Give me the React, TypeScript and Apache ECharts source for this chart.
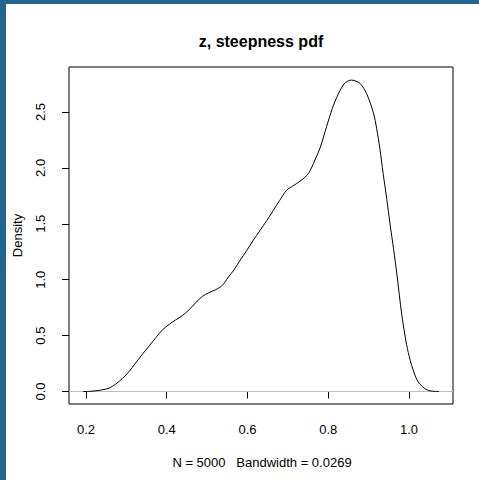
import React, { useEffect, useRef } from "react";
import * as echarts from "echarts";

const titleText = "z, steepness pdf";
const subText = "N = 5000   Bandwidth = 0.0269";
const yName = "Density";

const xTicks = [0.2, 0.4, 0.6, 0.8, 1.0];
const yTicks = [0, 0.5, 1.0, 1.5, 2.0, 2.5];

const xs = [
  0.193, 0.212, 0.232, 0.257, 0.274, 0.29, 0.307, 0.323, 0.339, 0.356, 0.373,
  0.389, 0.406, 0.422, 0.439, 0.455, 0.472, 0.488, 0.505, 0.521, 0.538, 0.552,
  0.567, 0.581, 0.598, 0.614, 0.631, 0.648, 0.664, 0.68, 0.697, 0.713, 0.73,
  0.751, 0.767, 0.78, 0.796, 0.81, 0.821, 0.837, 0.848, 0.858, 0.869, 0.879,
  0.895, 0.912, 0.92, 0.928, 0.936, 0.945, 0.953, 0.962, 0.97, 0.982, 0.994,
  1.003, 1.011, 1.019, 1.027, 1.04, 1.052, 1.074,
];
const density = [
  0.0, 0.002, 0.01, 0.03, 0.068, 0.115, 0.18, 0.255, 0.33, 0.405, 0.482, 0.55,
  0.6, 0.64, 0.68, 0.73, 0.795, 0.85, 0.885, 0.91, 0.95, 1.02, 1.09, 1.17,
  1.26, 1.35, 1.44, 1.53, 1.62, 1.71, 1.8, 1.84, 1.88, 1.95, 2.07, 2.18, 2.37,
  2.53, 2.63, 2.74, 2.775, 2.785, 2.775, 2.755, 2.665, 2.49, 2.35, 2.17, 1.95,
  1.72, 1.5, 1.27, 1.05, 0.69, 0.42, 0.28, 0.185, 0.11, 0.065, 0.025, 0.006,
  0.0,
];

export default function App() {
  const ref = useRef<HTMLDivElement>(null);
  useEffect(() => {
    if (!ref.current) return;
    const chart = echarts.init(ref.current, undefined, { renderer: "svg" });
    const font = "Liberation Sans, Arial, Helvetica, sans-serif";
    const data = xs.map((x, i) => [x, density[i]]);
    chart.setOption({
      animation: false,
      backgroundColor: "#ffffff",
      grid: {
        left: 69,
        top: 67,
        width: 384,
        height: 337,
        show: true,
        borderColor: "#000000",
        borderWidth: 1,
        backgroundColor: "transparent",
        containLabel: false,
        outerBoundsMode: "none",
      },
      xAxis: {
        type: "value",
        min: 0.158,
        max: 1.109,
        axisLine: { show: false },
        splitLine: { show: false },
        axisTick: {
          show: true,
          inside: false,
          length: 7,
          customValues: xTicks,
          lineStyle: { color: "#000", width: 1 },
        },
        axisLabel: {
          customValues: xTicks,
          margin: 19,
          fontSize: 13,
          fontFamily: font,
          color: "#000",
          formatter: (v: number) => v.toFixed(1),
        },
      },
      yAxis: {
        type: "value",
        min: -0.1116,
        max: 2.902,
        name: yName,
        nameLocation: "middle",
        nameGap: 45,
        nameRotate: 90,
        nameTextStyle: { fontSize: 13, fontFamily: font, color: "#000" },
        axisLine: { show: false },
        splitLine: { show: false },
        axisTick: {
          show: true,
          inside: false,
          length: 7,
          customValues: yTicks,
          lineStyle: { color: "#000", width: 1 },
        },
        axisLabel: {
          customValues: yTicks,
          rotate: 90,
          margin: 22,
          fontSize: 13,
          fontFamily: font,
          color: "#000",
          formatter: (v: number) => v.toFixed(1),
        },
      },
      series: [
        {
          type: "line",
          data,
          showSymbol: false,
          smooth: 0.3,
          lineStyle: { color: "#000", width: 1 },
          z: 3,
          markLine: {
            silent: true,
            symbol: ["none", "none"],
            label: { show: false },
            lineStyle: { color: "#bebebe", width: 1, type: "solid" },
            data: [{ yAxis: 0 }],
            z: 1,
          },
        },
      ],
      graphic: [
        {
          type: "rect",
          shape: { x: 0, y: 0, width: 479, height: 4 },
          style: { fill: "#246590" },
        },
        {
          type: "rect",
          shape: { x: 0, y: 0, width: 6, height: 480 },
          style: { fill: "#246590" },
        },
        {
          type: "text",
          style: {
            x: 261,
            y: 41,
            text: titleText,
            align: "center",
            verticalAlign: "middle",
            fontSize: 16,
            fontWeight: "bold",
            fontFamily: font,
            fill: "#000",
          },
        },
        {
          type: "text",
          style: {
            x: 262,
            y: 462,
            text: subText,
            align: "center",
            verticalAlign: "middle",
            fontSize: 13,
            fontFamily: font,
            fill: "#000",
          },
        },
      ],
    });
    return () => chart.dispose();
  }, []);
  return (
    <div
      ref={ref}
      style={{ position: "fixed", left: 0, top: 0, width: 479, height: 480 }}
    />
  );
}
